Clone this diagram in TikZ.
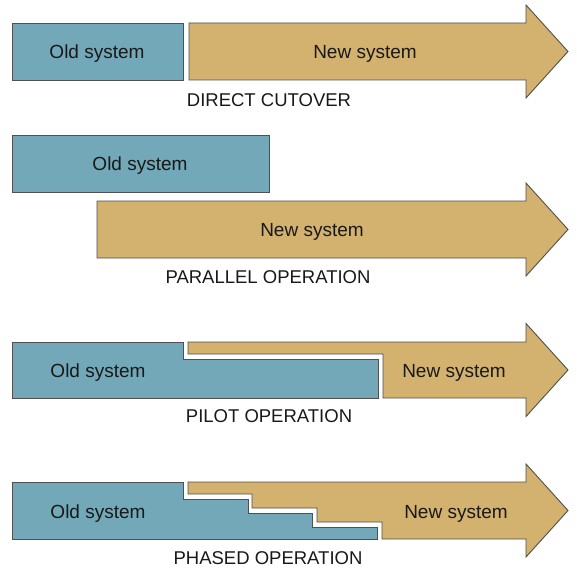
\documentclass[tikz,border=0pt]{standalone}
\usepackage{fontspec}
\setmainfont{Liberation Sans}
\definecolor{oldc}{RGB}{114,168,184}
\definecolor{newc}{RGB}{211,177,110}
\definecolor{edgec}{RGB}{80,80,80}
\definecolor{txtc}{RGB}{25,25,25}
\tikzset{
  oldshape/.style={fill=oldc,draw=edgec,line width=0.9pt,line join=miter},
  newshape/.style={fill=newc,draw=edgec,line width=0.9pt,line join=miter},
  lbl/.style={font=\fontsize{19}{21}\selectfont,text=txtc,inner sep=0pt,anchor=center,yshift=-1.5pt},
  ttl/.style={font=\fontsize{18.5}{21}\selectfont,text=txtc,inner sep=0pt,anchor=center}
}
\begin{document}
\begin{tikzpicture}[x=1pt,y=-1pt]
\useasboundingbox (0,0) rectangle (576,577);
\fill[white] (0,0) rectangle (576,577);
% ---------- Panel 1: direct cutover
\draw[oldshape] (12,23) rectangle (183,80);
\draw[newshape] (189,23) -- (526,23) -- (526,5) -- (568,51.5) -- (526,98) -- (526,80) -- (189,80) -- cycle;
\node[lbl] (o1) at (97,52) {Old system};
\node[lbl] (n1) at (365,52) {New system};
\node[ttl] (t1) at (269,100) {DIRECT CUTOVER};
% ---------- Panel 2: parallel operation
\draw[oldshape] (12,135) rectangle (269,192);
\draw[newshape] (97,201) -- (526,201) -- (526,183) -- (568,229.5) -- (526,276) -- (526,258) -- (97,258) -- cycle;
\node[lbl] (o2) at (140,164) {Old system};
\node[lbl] (n2) at (312,230) {New system};
\node[ttl] (t2) at (268,277) {PARALLEL OPERATION};
% ---------- Panel 3: pilot operation
\draw[oldshape] (12,342) -- (183,342) -- (183,359) -- (378,359) -- (378,398) -- (12,398) -- cycle;
\draw[newshape] (188,342) -- (526,342) -- (526,323.5) -- (568,370) -- (526,416.5) -- (526,398) -- (383,398) -- (383,354) -- (188,354) -- cycle;
\node[lbl] (o3) at (98,371) {Old system};
\node[lbl] (n3) at (454,371) {New system};
\node[ttl] (t3) at (269,416) {PILOT OPERATION};
% ---------- Panel 4: phased operation
\draw[oldshape] (12,482) -- (183,482) -- (183,499) -- (248,499) -- (248,513) -- (312,513) -- (312,527) -- (377,527) -- (377,539) -- (12,539) -- cycle;
\draw[newshape] (188,482) -- (526,482) -- (526,464) -- (568,510.5) -- (526,557) -- (526,539) -- (382,539) -- (382,522) -- (317,522) -- (317,508) -- (252,508) -- (252,494) -- (188,494) -- cycle;
\node[lbl] (o4) at (98,512) {Old system};
\node[lbl] (n4) at (456,512) {New system};
\node[ttl] (t4) at (268,558) {PHASED OPERATION};
\end{tikzpicture}
\end{document}
